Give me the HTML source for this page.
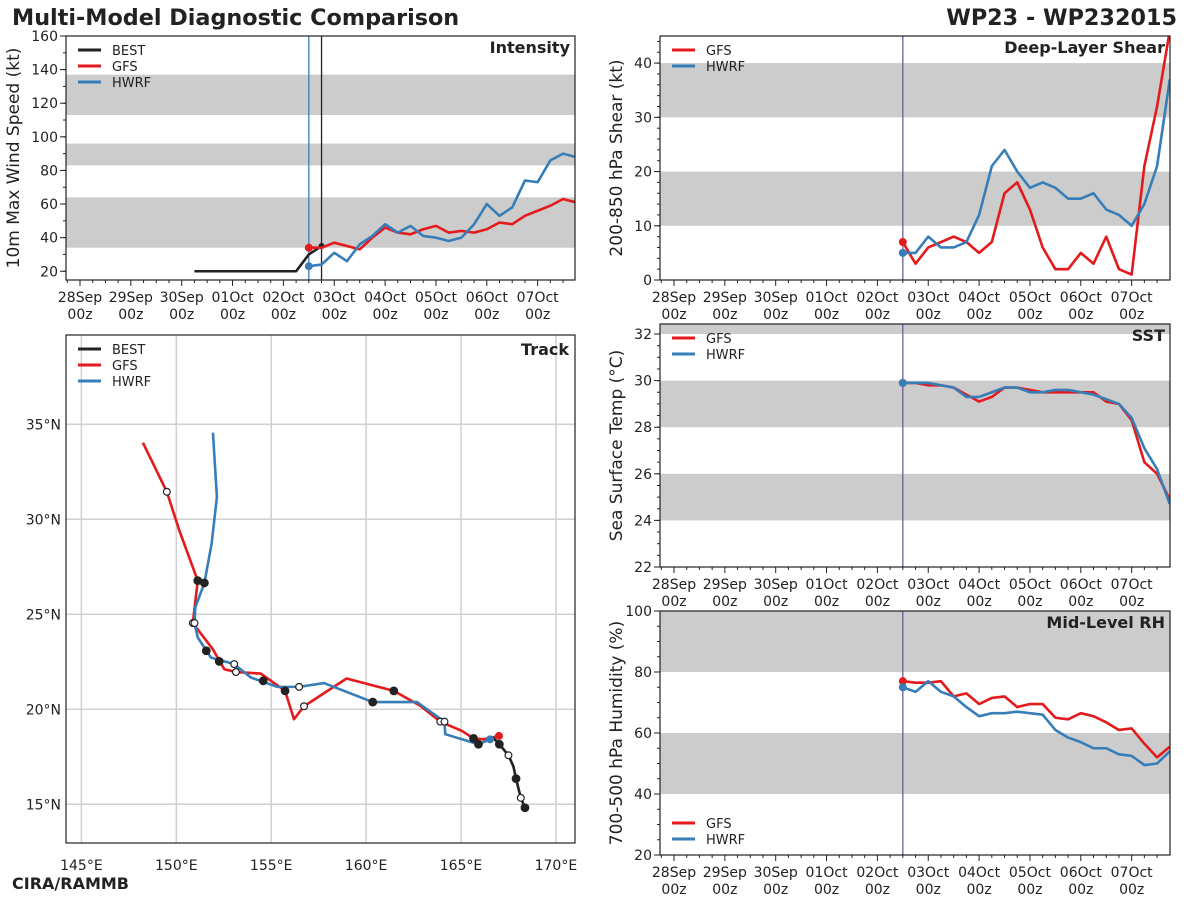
<!DOCTYPE html>
<html><head><meta charset="utf-8"><style>
body{margin:0;background:#fff;}
svg{display:block;font-family:"DejaVu Sans","Liberation Sans",sans-serif;}
</style></head><body>
<svg id="fig" width="1200" height="900" viewBox="0 0 1200 900" xmlns="http://www.w3.org/2000/svg">
<rect width="1200" height="900" fill="#fff"/>
<text x="12" y="25" font-size="22.3" font-weight="bold" fill="#222">Multi-Model Diagnostic Comparison</text>
<text x="1177" y="25" font-size="22.3" font-weight="bold" fill="#222" text-anchor="end">WP23 - WP232015</text>
<text x="12" y="889" font-size="16" font-weight="bold" fill="#222">CIRA/RAMMB</text>
<g id="root"></g>
</svg>
<script>
// ---- data (6-hourly from 02Oct 12z) ----
const fcstStartHour = 108;
const dayLabels = ["28Sep","29Sep","30Sep","01Oct","02Oct","03Oct","04Oct","05Oct","06Oct","07Oct"];
const intBestHours = [54,60,66,72,78,84,90,96,102,108,114];
const intBest = [20,20,20,20,20,20,20,20,20,30,35];
const intGfs = [34,34,37,35,33,40,46,43,42,45,47,43,44,43,45,49,48,53,56,59,63,61];
const intHwrf = [23,24,31,26,36,41,48,43,47,41,40,38,40,48,60,53,58,74,73,86,90,88];
const intTicks = [20,40,60,80,100,120,140,160];
const intBands = [[34,64],[83,96],[113,137]];
const shrGfs = [7,3,6,7,8,7,5,7,16,18,13,6,2,2,5,3,8,2,1,21,32,46];
const shrHwrf = [5,5,8,6,6,7,12,21,24,20,17,18,17,15,15,16,13,12,10,14,21,37];
const shrTicks = [0,10,20,30,40];
const shrBands = [[10,20],[30,40]];
const sstGfs = [29.9,29.9,29.8,29.8,29.7,29.4,29.1,29.3,29.7,29.7,29.6,29.5,29.5,29.5,29.5,29.5,29.1,29.0,28.3,26.5,26.0,24.9];
const sstHwrf = [29.9,29.9,29.9,29.8,29.7,29.3,29.3,29.5,29.7,29.7,29.5,29.5,29.6,29.6,29.5,29.4,29.2,29.0,28.4,27.1,26.2,24.7];
const sstTicks = [22,24,26,28,30,32];
const sstBands = [[24,26],[28,30],[32,34]];
const rhGfs = [77,76.5,76.5,77,72,73,69.5,71.5,72,68.5,69.5,69.5,65,64.5,66.5,65.5,63.5,61,61.5,56.5,52,55.5];
const rhHwrf = [75,73.5,77,73.5,72,68.5,65.5,66.5,66.5,67,66.5,66,61,58.5,57,55,55,53,52.5,49.5,50,54];
const rhTicks = [20,40,60,80,100];
const rhBands = [[40,60],[80,100]];
// track (lon, lat)
const trkGfsLon = [148.24,149.50,150.16,151.13,150.87,151.92,152.53,153.14,154.45,155.73,156.20,156.73,158.97,161.46,162.86,163.91,165.05,165.66,166.18,167.0];
const trkGfsLat = [34.03,31.45,29.41,26.77,24.54,23.17,22.11,21.96,21.88,20.97,19.48,20.16,21.62,20.97,20.18,19.35,18.86,18.47,18.42,18.6];
const trkHwrfLon = [151.93,152.14,151.86,151.48,151.0,150.96,151.13,151.83,153.05,153.93,155.33,156.47,157.78,160.35,162.68,164.13,164.17,165.92,166.53];
const trkHwrfLat = [34.56,31.17,28.71,26.65,25.36,24.54,23.78,22.72,22.38,21.67,21.18,21.18,21.38,20.38,20.38,19.35,18.69,18.16,18.42];
const trkBestLon = [168.37,168.15,167.9,167.76,167.50,167.02,166.7];
const trkBestLat = [14.82,15.34,16.35,17.0,17.58,18.16,18.5];
const mkLon = [149.5,151.13,151.48,150.87,150.96,151.58,152.26,153.05,153.14,154.58,155.73,156.47,156.73,160.35,161.46,163.91,164.13,165.66,165.92,167.02,167.5,167.9,168.15,168.37];
const mkLat = [31.45,26.77,26.65,24.54,24.54,23.08,22.52,22.38,21.96,21.5,20.97,21.18,20.16,20.38,20.97,19.35,19.35,18.47,18.16,18.16,17.58,16.35,15.34,14.82];
const mkFilled = [0,1,1,0,0,1,1,0,0,1,1,0,0,1,1,0,0,1,1,1,0,1,0,1];
const lonTicks = [145,150,155,160,165,170];
const latTicks = [15,20,25,30,35];

const RED="#e41a1c", BLUE="#377eb8", BLK="#222", GRAY="#cccccc";
const NS="http://www.w3.org/2000/svg";
const root=document.getElementById('root');
function mk(tag,attrs,parent){const e=document.createElementNS(NS,tag);for(const k in attrs)e.setAttribute(k,attrs[k]);(parent||root).appendChild(e);return e;}

function linearScale(d0,d1,r0,r1){return v=>r0+(v-d0)*(r1-r0)/(d1-d0);}

function tsPanel(o){
  const g=mk('g',{});
  
  
  const X=linearScale(0,216,o.x0+14,o.x0+14+9*50.85);
  const Y=linearScale(o.ymin,o.ymax,o.bottom,o.top);
  const hMax=233.8;
  for(const b of o.bands){
    const t=Math.max(Y(b[1]),o.top), bt=Math.min(Y(b[0]),o.bottom);
    const r=mk('rect',{x:o.x0,y:t,width:o.x1-o.x0,height:bt-t,fill:GRAY},g);
    
    
  }
  for(const v of o.vlines){
    const l=mk('line',{x1:X(v[0]),x2:X(v[0]),y1:o.top,y2:o.bottom,stroke:v[1],'stroke-width':1.3},g);
    
    
  }
  const cp=mk('clipPath',{id:'cp'+o.name},g);
  mk('rect',{x:o.x0,y:o.top,width:o.x1-o.x0,height:o.bottom-o.top},cp);
  for(const s of o.series){
    const pts=s.vals.map((v,i)=>[X(s.hours?s.hours[i]:fcstStartHour+6*i),Y(v)]);
    const p=mk('polyline',{points:pts.map(p=>p.join(',')).join(' '),fill:'none',stroke:s.color,'stroke-width':2.6,'stroke-linejoin':'round','clip-path':'url(#cp'+o.name+')'},g);
    
    
    const first=s.hours?pts[pts.length-1]:pts[0];
    const c=mk('circle',{cx:first[0],cy:first[1],r:s.hours?3:4,fill:s.color},g);
    
    
  }
  const fr=mk('rect',{x:o.x0,y:o.top,width:o.x1-o.x0,height:o.bottom-o.top,fill:'none',stroke:'#222','stroke-width':1.2},g);
  
  
  for(let h=-6;h<=hMax;h+=6){
    const x=X(h); if(x<o.x0||x>o.x1)continue;
    const major=h%24===0;
    mk('line',{x1:x,x2:x,y1:o.bottom,y2:o.bottom+(major?6:3),stroke:'#222','stroke-width':1},g);
  }
  dayLabels.forEach((d,i)=>{
    const t=mk('text',{x:X(24*i),y:o.bottom+22,'font-size':14,fill:'#222','text-anchor':'middle'},g);
    t.textContent=d;
    
    
    const t2=mk('text',{x:X(24*i),y:o.bottom+39,'font-size':14,fill:'#222','text-anchor':'middle'},g);
    t2.textContent='00z';
    
    
  });
  for(let v=o.ymin0;v<=o.ymax;v+=o.minor){
    const y=Y(v); if(y<o.top-0.5||y>o.bottom+0.5)continue;
    mk('line',{x1:o.x0-3,x2:o.x0,y1:y,y2:y,stroke:'#222','stroke-width':1},g);
  }
  for(const v of o.ticks){
    const y=Y(v);
    mk('line',{x1:o.x0-6,x2:o.x0,y1:y,y2:y,stroke:'#222','stroke-width':1},g);
    const t=mk('text',{x:o.x0-8,y:y+5,'font-size':14,fill:'#222','text-anchor':'end'},g);
    t.textContent=v;
    
    
  }
  const cy=(o.top+o.bottom)/2;
  const yl=mk('text',{x:0,y:0,'font-size':17,fill:'#222','text-anchor':'middle',transform:`translate(${o.ylabX},${cy}) rotate(-90)`},g);
  yl.textContent=o.ylabel;
  
  
  const tt=mk('text',{x:o.x1-5,y:o.top+17,'font-size':16,'font-weight':'bold',fill:'#222','text-anchor':'end'},g);
  tt.textContent=o.title;
  
  
  legend(g,o.x0+12,o.legY,o.series.map(s=>[s.label,s.color]));
}
function legend(g,x,y,items){
  items.forEach((it,i)=>{
    const l=mk('line',{x1:x,x2:x+23,y1:y+i*16,y2:y+i*16,stroke:it[1],'stroke-width':3},g);
    
    
    const t=mk('text',{x:x+34,y:y+i*16+5,'font-size':13,fill:'#222'},g);
    t.textContent=it[0];
    
    
  });
}
const L={x0:66,x1:575}, R={x0:660,x1:1170};
tsPanel({name:'intensity',...L,top:36,bottom:280,ymin:14.8,ymax:160,ymin0:20,minor:10,ticks:intTicks,bands:intBands,
  vlines:[[108,BLUE],[114,BLK]],ylabel:'10m Max Wind Speed (kt)',ylabX:19,title:'Intensity',legY:50,
  series:[{label:'BEST',color:BLK,vals:intBest,hours:intBestHours},{label:'GFS',color:RED,vals:intGfs},{label:'HWRF',color:BLUE,vals:intHwrf}]});
tsPanel({name:'shear',...R,top:36,bottom:280,ymin:0,ymax:45,ymin0:0,minor:2,ticks:shrTicks,bands:shrBands,
  vlines:[[108,'#6a5f9a']],ylabel:'200-850 hPa Shear (kt)',ylabX:622,title:'Deep-Layer Shear',legY:50,
  series:[{label:'GFS',color:RED,vals:shrGfs},{label:'HWRF',color:BLUE,vals:shrHwrf}]});
tsPanel({name:'sst',...R,top:324,bottom:567,ymin:22,ymax:32.43,ymin0:22,minor:0.5,ticks:sstTicks,bands:sstBands,
  vlines:[[108,'#6a5f9a']],ylabel:'Sea Surface Temp (°C)',ylabX:622,title:'SST',legY:338,
  series:[{label:'GFS',color:RED,vals:sstGfs},{label:'HWRF',color:BLUE,vals:sstHwrf}]});
tsPanel({name:'rh',...R,top:611,bottom:855,ymin:20,ymax:100,ymin0:20,minor:5,ticks:rhTicks,bands:rhBands,
  vlines:[[108,'#6a5f9a']],ylabel:'700-500 hPa Humidity (%)',ylabX:622,title:'Mid-Level RH',legY:823,
  series:[{label:'GFS',color:RED,vals:rhGfs},{label:'HWRF',color:BLUE,vals:rhHwrf}]});

(function(){
  const g=mk('g',{});
  
  
  const T={x0:66,x1:575,top:335,bottom:843};
  const X=linearScale(150,155,176.3,271.2);
  const Y=linearScale(35,30,424.3,519.3);
  for(const lo of lonTicks){
    const x=X(lo);
    const l=mk('line',{x1:x,x2:x,y1:T.top,y2:T.bottom,stroke:'#d0d0d0','stroke-width':1.5},g);
    
    
    const t=mk('text',{x:x,y:870,'font-size':14,fill:'#222','text-anchor':'middle'},g);
    t.textContent=lo+'°E';
    
    
  }
  for(const la of latTicks){
    const y=Y(la);
    const l=mk('line',{x1:T.x0,x2:T.x1,y1:y,y2:y,stroke:'#d0d0d0','stroke-width':1.5},g);
    
    
    const t=mk('text',{x:61,y:y+5,'font-size':14,fill:'#222','text-anchor':'end'},g);
    t.textContent=la+'°N';
    
    
  }
  function path(lons,lats,color,nm){
    const p=mk('polyline',{points:lons.map((v,i)=>X(v)+','+Y(lats[i])).join(' '),fill:'none',stroke:color,'stroke-width':2.6,'stroke-linejoin':'round'},g);
    
    
  }
  path(trkGfsLon,trkGfsLat,RED,'gfs-track');
  path(trkHwrfLon,trkHwrfLat,BLUE,'hwrf-track');
  path(trkBestLon,trkBestLat,BLK,'best-track');
  const e1=mk('circle',{cx:X(trkGfsLon[trkGfsLon.length-1]),cy:Y(trkGfsLat[trkGfsLat.length-1]),r:4,fill:RED},g);
  
  
  const e2=mk('circle',{cx:X(trkHwrfLon[trkHwrfLon.length-1]),cy:Y(trkHwrfLat[trkHwrfLat.length-1]),r:4,fill:BLUE},g);
  
  
  mkLon.forEach((lo,i)=>{
    const c=mk('circle',{cx:X(lo),cy:Y(mkLat[i]),r:mkFilled[i]?3.8:3.4,fill:mkFilled[i]?BLK:'#fff',stroke:BLK,'stroke-width':1.2},g);
    
    
  });
  const fr=mk('rect',{x:T.x0,y:T.top,width:T.x1-T.x0,height:T.bottom-T.top,fill:'none',stroke:'#222','stroke-width':1.2},g);
  
  
  const tt=mk('text',{x:T.x1-6,y:T.top+20,'font-size':16,'font-weight':'bold',fill:'#222','text-anchor':'end'},g);
  tt.textContent='Track';
  
  
  legend(g,78,349,[['BEST',BLK],['GFS',RED],['HWRF',BLUE]]);
})();
</script>
</body></html>
